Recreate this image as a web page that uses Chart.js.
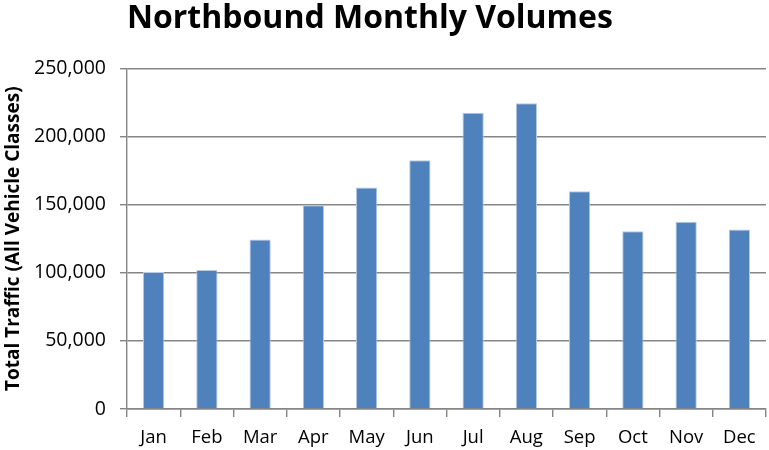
<!DOCTYPE html>
<html>
<head>
<meta charset="utf-8">
<script src="https://cdn.jsdelivr.net/npm/chart.js@4.4.0/dist/chart.umd.min.js"></script>
<style>
  html, body { margin: 0; padding: 0; background: #ffffff; }
  #wrap { width: 769px; height: 450px; position: relative; }
</style>
</head>
<body>
<div id="wrap"><canvas id="c" width="769" height="450"></canvas></div>
<script>
const chartTitle = "Northbound Monthly Volumes";
const yAxisTitle = "Total Traffic (All Vehicle Classes)";
const months = ["Jan","Feb","Mar","Apr","May","Jun","Jul","Aug","Sep","Oct","Nov","Dec"];
const volumes = [100500, 102000, 124500, 149500, 162500, 182500, 217500, 224500, 159800, 130500, 137500, 131800];
const yTicks = [0, 50000, 100000, 150000, 200000, 250000];

const FONT = "'Open Sans', sans-serif";
const gridColor = "#858585";

new Chart(document.getElementById("c"), {
  type: "bar",
  data: {
    labels: months,
    datasets: [{
      data: volumes,
      backgroundColor: "#4F81BD",
      borderColor: "#B7CBE4",
      borderWidth: 1,
      categoryPercentage: 1.0,
      barPercentage: 0.4
    }]
  },
  options: {
    responsive: false,
    animation: false,
    devicePixelRatio: 1,
    layout: { padding: { left: 0, right: 3, top: 0, bottom: 0 } },
    plugins: {
      legend: { display: false },
      tooltip: { enabled: false },
      title: {
        display: true,
        fullSize: false,
        align: "start",
        text: chartTitle,
        color: "#000000",
        font: { family: FONT, size: 32, weight: "bold", lineHeight: 1.2 },
        padding: { top: 0, bottom: 30 }
      }
    },
    scales: {
      x: {
        offset: true,
        grid: {
          display: true,
          offset: true,
          drawOnChartArea: false,
          drawTicks: true,
          tickLength: 8,
          color: gridColor,
          lineWidth: 1.4
        },
        border: { display: true, color: gridColor, width: 1.4 },
        ticks: {
          color: "#000000",
          font: { family: FONT, size: 18.5 },
          padding: 10,
          maxRotation: 0
        },
        afterFit: (s) => { s.height = 41; }
      },
      y: {
        min: 0,
        max: 250000,
        afterBuildTicks: (s) => { s.ticks = yTicks.map(v => ({ value: v })); },
        grid: {
          color: gridColor,
          lineWidth: 1.4,
          drawTicks: true,
          tickLength: 7
        },
        border: { display: true, color: gridColor, width: 1.4 },
        ticks: {
          color: "#000000",
          font: { family: FONT, size: 19.5 },
          padding: 14,
          callback: (v) => v.toLocaleString("en-US")
        },
        title: {
          display: true,
          text: yAxisTitle,
          color: "#000000",
          font: { family: FONT, size: 19, weight: "bold" },
          padding: { top: 2, bottom: 3 }
        },
        afterFit: (s) => { s.width = 127; }
      }
    }
  }
});
</script>
</body>
</html>
